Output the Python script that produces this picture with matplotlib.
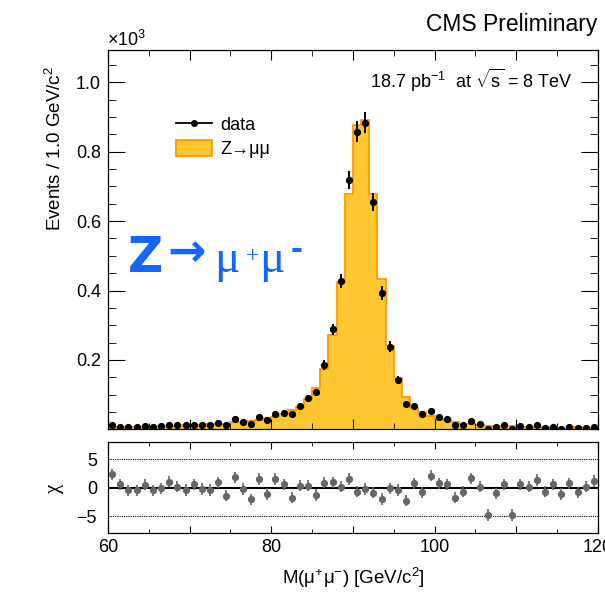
import numpy as np
import matplotlib
matplotlib.use('Agg')
import matplotlib.pyplot as plt
from matplotlib.lines import Line2D
from matplotlib.patches import Patch
from matplotlib.ticker import MultipleLocator, FuncFormatter

plt.rcParams['font.family'] = ['Liberation Sans', 'DejaVu Sans']
plt.rcParams['mathtext.fontset'] = 'custom'
plt.rcParams['mathtext.rm'] = 'Liberation Sans'
plt.rcParams['mathtext.it'] = 'Liberation Sans'
plt.rcParams['mathtext.bf'] = 'Liberation Sans:bold'

# Data: 1 GeV bins from 60 to 120
edges = np.arange(60, 121, 1)
centers = edges[:-1] + 0.5
data = [14, 8, 6, 7, 9, 7, 9, 14, 12, 12,
        14, 14, 14, 19, 12, 30, 20, 16, 36, 27,
        45, 47, 43, 67, 90, 107, 186, 288, 428, 719,
        858, 884, 656, 392, 238, 142, 72, 67, 43, 53,
        35, 29, 14, 14, 24, 15, 2, 7, 12, 2,
        9, 7, 12, 5, 7, 2, 7, 4, 5, 7]
mc = [5, 6, 7, 8, 7, 8, 9, 10, 11, 13,
      11, 14, 15, 15, 16, 20, 21, 24, 26, 33,
      35, 43, 55, 64, 87, 120, 174, 272, 424, 677,
      878, 891, 679, 432, 240, 147, 92, 61, 49, 38,
      30, 26, 20, 16, 16, 14, 9, 10, 10, 9,
      7, 7, 7, 7, 5, 5, 5, 6, 5, 4]
chi = [2.35, 0.6, -0.5, -0.5, 0.5, -0.5, -0.1, 1.05, 0.2, -0.4,
       0.6, -0.25, -0.4, 0.95, -1.4, 1.8, -0.25, -2.05, 1.55, -1.1,
       1.55, 0.6, -1.75, 0.35, 0.35, -1.3, 0.9, 0.95, 0.2, 1.55,
       -0.7, -0.25, -0.9, -2.0, -0.1, -0.4, -2.3, 0.75, -0.8, 2.1,
       0.75, 0.6, -1.75, -0.7, 1.65, 0.2, -4.8, -1.0, 0.6, -4.8,
       0.6, 0.2, 1.35, -0.7, 0.6, -1.1, 0.75, -0.8, 0.2, 1.2]

data = np.array(data, dtype=float)
mc = np.array(mc, dtype=float)
chi = np.array(chi)

W, H = 605, 592
fig = plt.figure(figsize=(W / 100, H / 100), dpi=100)

def box(l, t, r, b):
    return [l / W, 1 - b / H, (r - l) / W, (b - t) / H]

ax = fig.add_axes(box(108, 50, 598, 429.4))
ax2 = fig.add_axes(box(108, 442, 598, 533.3))

# top panel
ax.stairs(mc, edges, fill=True, color='#ffc832', lw=0)
ax.stairs(mc, edges, color='#ff9900', lw=1.3)
ax.errorbar(centers, data, yerr=np.sqrt(data), fmt='o', color='k',
            ms=4.2, elinewidth=1.4, capsize=0, zorder=5)
ax.set_xlim(60, 120)
ax.set_ylim(0, 1093)
ax.yaxis.set_major_locator(MultipleLocator(200))
ax.yaxis.set_minor_locator(MultipleLocator(50))
ax.yaxis.set_major_formatter(FuncFormatter(lambda v, p: '' if v == 0 else '%.1f' % (v / 1000)))
ax.xaxis.set_major_locator(MultipleLocator(10))
ax.xaxis.set_minor_locator(MultipleLocator(5))
ax.tick_params(axis='both', which='both', direction='in', top=True, right=True,
               labelbottom=False, labelsize=13, pad=5)
ax.tick_params(axis='y', which='major', length=12)
ax.tick_params(axis='y', which='minor', length=6)
ax.tick_params(axis='x', which='major', length=7)
ax.tick_params(axis='x', which='minor', length=4)

# bottom panel
ax2.axhline(0, color='k', lw=1.5, zorder=1)
ax2.axhline(5, color='k', lw=0.8, ls=(0, (1, 1)), zorder=1)
ax2.axhline(-5, color='k', lw=0.8, ls=(0, (1, 1)), zorder=1)
ax2.errorbar(centers, chi, yerr=1, fmt='o', color='#666666',
             ms=4.2, elinewidth=1.2, capsize=0, zorder=3)
ax2.set_xlim(60, 120)
ax2.set_ylim(-8.05, 8.05)
ax2.set_yticks([-5, 0, 5])
ax2.xaxis.set_major_locator(MultipleLocator(10))
ax2.xaxis.set_minor_locator(MultipleLocator(5))
ax2.xaxis.set_major_formatter(FuncFormatter(lambda v, p: '%d' % v if v % 20 == 0 else ''))
ax2.tick_params(axis='both', which='both', direction='in', top=True, right=True,
                labelsize=13, pad=4)
ax2.tick_params(axis='y', length=0, pad=8)
ax2.tick_params(axis='x', which='major', length=5)
ax2.tick_params(axis='x', which='minor', length=3)

for a in (ax, ax2):
    for s in a.spines.values():
        s.set_linewidth(0.9)

# labels
fig.text(55 / W, 1 - 66 / H, 'Events / 1.0 GeV/c$^{2}$', rotation=90,
         ha='center', va='top', fontsize=13.5)
fig.text(55 / W, 1 - 488 / H, 'χ', rotation=90, ha='center', va='center',
         fontsize=15, family='Liberation Serif')
fig.text(353 / W, 1 - 578 / H, 'M(μ$^{+}$μ$^{-}$) [GeV/c$^{2}$]',
         ha='center', va='center', fontsize=13.5)
fig.text(107 / W, 1 - 40 / H, '×10$^{3}$', ha='left', va='center', fontsize=13)
fig.text(597 / W, 1 - 24 / H, 'CMS Preliminary', ha='right', va='center', fontsize=16.5)
fig.text(370 / W, 1 - 80 / H, '18.7 pb$^{-1}$  at $\\sqrt{s}$ = 8 TeV',
         ha='left', va='center', fontsize=13)

# legend
handles = [Line2D([], [], color='k', marker='o', ms=4, lw=1.3),
           Patch(facecolor='#ffc832', edgecolor='#ff9900', lw=1.3)]
fig.legend(handles, ['data', 'Z→μμ'], loc='upper left',
           bbox_to_anchor=(176 / W, 1 - 116 / H), bbox_transform=fig.transFigure,
           frameon=False, fontsize=13, handlelength=2.0, handleheight=1.0,
           labelspacing=0.3, handletextpad=0.45, borderpad=0, borderaxespad=0)

# big blue label
blue = '#1466ff'
base = 1 - 272 / H
fig.text(128 / W, base, 'Z', color=blue, fontsize=35, fontweight='heavy',
         family='DejaVu Sans', ha='left', va='baseline')
fig.text(167 / W, 1 - 254 / H, '→', color=blue, fontsize=33, family='DejaVu Sans',
         fontweight='bold', ha='left', va='center')
fig.text(214 / W, base, 'μ', color=blue, fontsize=34, family='Liberation Serif',
         ha='left', va='baseline')
fig.text(246 / W, 1 - 262 / H, '+', color=blue, fontsize=17, family='Liberation Serif',
         ha='left', va='baseline')
fig.text(259 / W, base, 'μ', color=blue, fontsize=34, family='Liberation Serif',
         ha='left', va='baseline')
fig.text(291 / W, 1 - 249.5 / H, '-', color=blue, fontsize=26, family='Liberation Sans',
         fontweight='bold', ha='left', va='center')

fig.savefig('out.png', dpi=100)
